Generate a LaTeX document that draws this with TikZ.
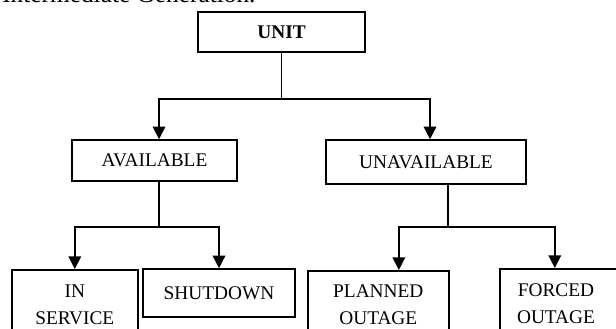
\documentclass[tikz,border=0pt]{standalone}
\usepackage{fontspec}
\setmainfont{Liberation Serif}
\usetikzlibrary{arrows.meta}
\tikzset{
  box/.style={draw, line width=1.2pt, rectangle, inner sep=0pt, align=center,
    font=\fontsize{14.5}{20}\selectfont},
  link/.style={line width=1.1pt},
  arr/.style={link, -{Triangle[width=9.5pt, length=9.5pt]}}
}
\begin{document}
\begin{tikzpicture}[x=0.75pt, y=-0.75pt]
	\useasboundingbox (0,0) rectangle (616,328);
	\clip (0,0) rectangle (616,328);
	\node[anchor=base west, inner sep=0pt, font=\fontsize{19}{22}\selectfont] (caption) at (2,2.5) {Intermediate Generation.};
	
	\node[box, minimum width=125.25pt, minimum height=30pt, font=\fontsize{14.5}{20}\selectfont\bfseries] (unit) at (281.5,32) {UNIT};
	\node[box, minimum width=123.75pt, minimum height=30.75pt] (avail) at (154.5,160.5) {AVAILABLE};
	\node[box, minimum width=150pt, minimum height=33pt] (unavail) at (426,162) {UNAVAILABLE};
	
	\node[box, minimum width=94.5pt, minimum height=52.5pt, anchor=north west] (inservice) at (11,269) {IN\\SERVICE};
	\node[box, minimum width=114pt, minimum height=36pt] (shutdown) at (219,293) {SHUTDOWN};
	\node[box, minimum width=105.75pt, minimum height=51pt, anchor=north west] (planned) at (307,270) {PLANNED\\OUTAGE};
	\node[box, minimum width=112.5pt, minimum height=54pt, anchor=north west] (forced) at (499,268) {};
	\node[align=center, inner sep=0pt, font=\fontsize{14.5}{20}\selectfont] (forcedtext) at (556,304) {FORCED\\OUTAGE};
	
	\draw[link] (unit.south) -- ++(0,46) coordinate (j0);
	\draw[arr] (j0) -| ([xshift=3.4pt]avail.north);
	\draw[arr] (j0) -| ([xshift=3pt]unavail.north);
	
	\draw[link] ([xshift=3.4pt]avail.south) -- ++(0,45) coordinate (j1);
	\draw[arr] (j1) -| (inservice.north);
	\draw[arr] (j1) -| (shutdown.north);
	
	\draw[link] ([xshift=16.5pt]unavail.south) -- ++(0,42) coordinate (j2);
	\draw[arr] (j2) -| ([xshift=15.4pt]planned.north);
	\draw[arr] (j2) -| ([xshift=-15pt]forced.north);
\end{tikzpicture}
\end{document}
